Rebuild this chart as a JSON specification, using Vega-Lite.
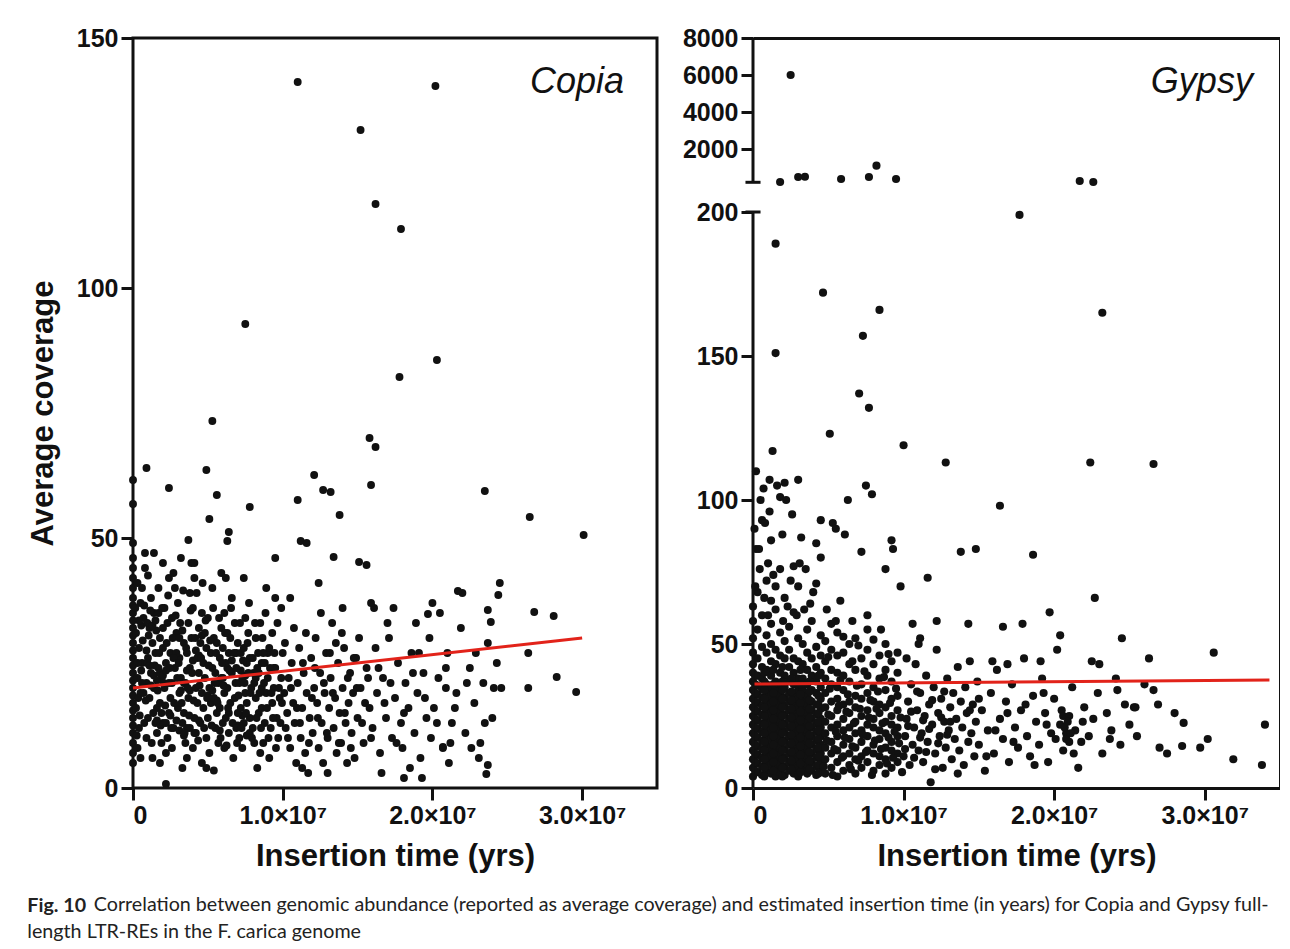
{
  "$schema": "https://vega.github.io/schema/vega-lite/v6.json",
  "background": "white",
  "padding": {"left": 25, "top": 24, "right": 0, "bottom": 0},
  "spacing": 23,
  "title": {
    "text": "Correlation between genomic abundance (reported as average coverage) and estimated insertion time (in years) for Copia and Gypsy full-",
    "orient": "bottom",
    "anchor": "start",
    "font": "Lato",
    "fontSize": 19.7,
    "fontWeight": "normal",
    "color": "#222",
    "baseline": "top",
    "dx": 68,
    "offset": -48
  },
  "datasets": {
    "copia": [
      {"t":0,"c":5},{"t":0,"c":7},{"t":0,"c":9},{"t":0,"c":11},{"t":0,"c":12.5},{"t":0,"c":14},{"t":0,"c":15.5},{"t":0,"c":17},{"t":0,"c":18.5},{"t":0,"c":20},{"t":0,"c":21.5},{"t":0,"c":23},{"t":0,"c":24.5},{"t":0,"c":26},{"t":0,"c":27.5},{"t":0,"c":29},{"t":0,"c":30.5},{"t":0,"c":32},{"t":0,"c":33.5},{"t":0,"c":35},{"t":0,"c":36.5},{"t":0,"c":38},{"t":0,"c":40},{"t":0,"c":42},{"t":0,"c":44},{"t":0,"c":46},{"t":0,"c":49},{"t":0,"c":56.8},{"t":0,"c":61.6},
      {"t":0.3,"c":8},{"t":0.4,"c":12},{"t":0.2,"c":16},{"t":0.5,"c":19},{"t":0.3,"c":22},{"t":0.6,"c":25},{"t":0.4,"c":28},{"t":0.2,"c":31},{"t":0.7,"c":34},{"t":0.5,"c":37},{"t":0.3,"c":41},{"t":0.8,"c":44},{"t":0.9,"c":10},{"t":1.0,"c":14},{"t":1.1,"c":18},{"t":0.9,"c":21},{"t":1.2,"c":23},{"t":1.0,"c":26},{"t":1.3,"c":29},{"t":1.1,"c":32},{"t":1.4,"c":35},{"t":1.2,"c":38},{"t":1.5,"c":13},{"t":1.6,"c":16},{"t":1.4,"c":20},{"t":1.7,"c":24},{"t":1.5,"c":27},{"t":1.8,"c":30},{"t":1.6,"c":11},{"t":1.9,"c":9},{"t":2.0,"c":13},{"t":1.8,"c":17},{"t":2.1,"c":20},{"t":1.9,"c":22},{"t":2.2,"c":25},{"t":2.0,"c":28},{"t":2.3,"c":33},{"t":2.1,"c":36},{"t":1.7,"c":40},{"t":2.4,"c":42},{"t":2.2,"c":7},{"t":1.3,"c":6},{"t":0.8,"c":47},{"t":2.5,"c":18},{"t":2.6,"c":21},{"t":2.4,"c":15},{"t":2.7,"c":12},{"t":2.3,"c":10},{"t":2.8,"c":24},{"t":2.5,"c":27},{"t":2.9,"c":31},{"t":2.6,"c":34},{"t":3.0,"c":37},{"t":2.8,"c":40},{"t":3.1,"c":19},{"t":3.2,"c":22},{"t":3.0,"c":16},{"t":3.3,"c":13},{"t":3.1,"c":26},{"t":3.4,"c":29},
      {"t":0.25,"c":10.5},{"t":0.45,"c":14.5},{"t":0.35,"c":18},{"t":0.55,"c":23.5},{"t":0.65,"c":29.5},{"t":0.75,"c":13},{"t":0.85,"c":17.5},{"t":0.95,"c":25},{"t":1.05,"c":30.5},{"t":1.15,"c":35.5},{"t":1.25,"c":9},{"t":1.35,"c":15},{"t":1.45,"c":24.5},{"t":1.55,"c":31.5},{"t":1.65,"c":19.5},{"t":1.75,"c":27},{"t":1.85,"c":12.5},{"t":1.95,"c":36},{"t":2.05,"c":21},{"t":2.15,"c":16.5},{"t":2.25,"c":29},{"t":2.35,"c":38.5},{"t":2.45,"c":24},{"t":2.55,"c":12},{"t":2.65,"c":30},{"t":2.75,"c":17},{"t":2.85,"c":34.5},{"t":2.95,"c":22},{"t":0.6,"c":40},{"t":1.0,"c":42.5},{"t":2.0,"c":45},{"t":2.7,"c":43},{"t":0.15,"c":36},{"t":0.5,"c":6},{"t":1.8,"c":5},{"t":2.6,"c":8},
      {"t":1.2,"c":20.5},{"t":1.4,"c":22.5},{"t":1.6,"c":21.5},{"t":1.8,"c":23},{"t":2.0,"c":22.5},{"t":2.2,"c":23.5},{"t":2.4,"c":21},{"t":0.7,"c":19},{"t":0.9,"c":27.5},{"t":1.1,"c":24.5},{"t":3.2,"c":19.5},{"t":3.4,"c":21},{"t":3.6,"c":23.5},{"t":3.8,"c":19.5},{"t":4.0,"c":25.5},{"t":4.2,"c":27.5},{"t":4.4,"c":26.5},{"t":4.6,"c":30.5},{"t":2.9,"c":27},{"t":3.1,"c":30},{"t":3.3,"c":31.5},{"t":2.7,"c":26},{"t":1.6,"c":13.5},{"t":1.9,"c":15},{"t":2.2,"c":13},{"t":2.5,"c":14.5},{"t":2.9,"c":13.5},{"t":3.1,"c":11.5},{"t":3.4,"c":10.5},{"t":3.8,"c":12},{"t":4.1,"c":11},{"t":4.4,"c":13.5},{"t":5.0,"c":18.5},{"t":5.3,"c":19.5},{"t":5.6,"c":17.5},{"t":6.0,"c":22},{"t":6.3,"c":24},{"t":6.6,"c":25.5},{"t":6.9,"c":27},{"t":7.2,"c":23.5},{"t":7.5,"c":22.5},{"t":7.8,"c":26},{"t":0.55,"c":32.5},{"t":0.75,"c":36.5},{"t":0.95,"c":33},{"t":1.3,"c":32.5},{"t":1.5,"c":33.5},{"t":1.7,"c":35},{"t":2.0,"c":32},{"t":0.3,"c":25},{"t":0.6,"c":21},{"t":0.4,"c":33.5},{"t":5.8,"c":11.5},{"t":6.1,"c":8},{"t":6.4,"c":15},{"t":7.0,"c":12.5},{"t":7.3,"c":14.5},{"t":7.6,"c":10.5},{"t":8.2,"c":22},{"t":8.6,"c":25},{"t":9.0,"c":27},{"t":9.4,"c":24},
      {"t":3.5,"c":9},{"t":3.6,"c":12},{"t":3.4,"c":15},{"t":3.7,"c":18},{"t":3.5,"c":21},{"t":3.8,"c":24},{"t":3.6,"c":27},{"t":3.9,"c":30},{"t":3.7,"c":33},{"t":4.0,"c":36},{"t":3.8,"c":39},{"t":4.1,"c":42},{"t":4.0,"c":8},{"t":4.2,"c":11},{"t":4.1,"c":14},{"t":4.3,"c":17},{"t":4.2,"c":20},{"t":4.4,"c":23},{"t":4.3,"c":26},{"t":4.5,"c":29},{"t":4.4,"c":32},{"t":4.6,"c":35},{"t":4.5,"c":13},{"t":4.7,"c":16},{"t":4.6,"c":19},{"t":4.8,"c":22},{"t":4.7,"c":25},{"t":4.9,"c":28},{"t":4.8,"c":31},{"t":5.0,"c":34},{"t":4.9,"c":10},{"t":5.1,"c":7},{"t":5.0,"c":14},{"t":5.2,"c":17},{"t":5.1,"c":20},{"t":5.3,"c":24},{"t":5.2,"c":27},{"t":5.4,"c":30},{"t":5.3,"c":40},{"t":5.5,"c":12},{"t":5.6,"c":15},{"t":5.4,"c":18},{"t":5.7,"c":21},{"t":5.5,"c":23},{"t":5.8,"c":26},{"t":5.6,"c":29},{"t":5.9,"c":32},{"t":5.7,"c":9},{"t":6.0,"c":13},{"t":5.8,"c":16},{"t":6.1,"c":19},{"t":5.9,"c":22},{"t":6.2,"c":25},{"t":6.0,"c":28},{"t":6.3,"c":31},{"t":6.1,"c":35},{"t":6.4,"c":11},{"t":6.2,"c":14},{"t":6.5,"c":17},{"t":6.3,"c":20},{"t":6.6,"c":23},{"t":6.4,"c":27},{"t":6.7,"c":6},{"t":6.5,"c":30},{"t":6.8,"c":33},{"t":6.6,"c":38},{"t":3.3,"c":4},{"t":4.6,"c":5},{"t":5.4,"c":3.5},{"t":3.9,"c":45},
      {"t":3.05,"c":25},{"t":3.15,"c":33},{"t":3.25,"c":17},{"t":3.35,"c":39.5},{"t":3.45,"c":11},{"t":3.55,"c":28},{"t":3.65,"c":20},{"t":3.75,"c":14.5},{"t":3.85,"c":35.5},{"t":3.95,"c":23},{"t":4.05,"c":17.5},{"t":4.15,"c":30},{"t":4.25,"c":39},{"t":4.35,"c":9.5},{"t":4.45,"c":20.5},{"t":4.55,"c":26},{"t":4.65,"c":41},{"t":4.75,"c":12},{"t":4.85,"c":33.5},{"t":4.95,"c":18},{"t":5.05,"c":24.5},{"t":5.15,"c":29.5},{"t":5.25,"c":12.5},{"t":5.35,"c":36},{"t":5.45,"c":21},{"t":5.55,"c":27},{"t":5.65,"c":17},{"t":5.75,"c":34},{"t":5.85,"c":10},{"t":5.95,"c":25},{"t":6.05,"c":20.5},{"t":6.15,"c":31},{"t":6.25,"c":8.5},{"t":6.35,"c":16},{"t":6.45,"c":23.5},{"t":6.55,"c":36},{"t":6.65,"c":13},{"t":6.75,"c":27},{"t":6.85,"c":21},{"t":6.95,"c":9},{"t":4.1,"c":45},{"t":5.9,"c":43},{"t":3.2,"c":46},{"t":6.2,"c":42},{"t":4.9,"c":4},{"t":3.6,"c":6},
      {"t":6.9,"c":12},{"t":7.0,"c":15},{"t":6.8,"c":18},{"t":7.1,"c":21},{"t":6.9,"c":24},{"t":7.2,"c":27},{"t":7.0,"c":29},{"t":7.3,"c":8},{"t":7.1,"c":10},{"t":7.4,"c":13},{"t":7.2,"c":16},{"t":7.5,"c":19},{"t":7.3,"c":22},{"t":7.6,"c":25},{"t":7.4,"c":28},{"t":7.7,"c":31},{"t":7.5,"c":34},{"t":7.8,"c":14},{"t":7.6,"c":17},{"t":7.9,"c":20},{"t":7.7,"c":23},{"t":8.0,"c":26},{"t":7.8,"c":11},{"t":8.1,"c":9},{"t":8.0,"c":12},{"t":8.2,"c":18},{"t":8.1,"c":21},{"t":8.3,"c":24},{"t":8.2,"c":30},{"t":8.4,"c":15},{"t":8.5,"c":7},{"t":8.3,"c":4},{"t":8.6,"c":20},{"t":8.4,"c":23},{"t":8.7,"c":27},{"t":8.5,"c":33},{"t":8.8,"c":13},{"t":8.6,"c":16},{"t":8.9,"c":19},{"t":8.7,"c":9},{"t":9.0,"c":22},{"t":8.8,"c":25},{"t":9.1,"c":28},{"t":9.2,"c":12},{"t":9.3,"c":17},{"t":9.1,"c":6},{"t":9.4,"c":20},{"t":9.5,"c":24},{"t":9.3,"c":31},{"t":9.6,"c":14},{"t":9.7,"c":10},{"t":9.5,"c":38},{"t":9.8,"c":18},{"t":9.9,"c":22},{"t":10.0,"c":27},
      {"t":7.05,"c":18.5},{"t":7.15,"c":33},{"t":7.25,"c":12},{"t":7.35,"c":25.5},{"t":7.45,"c":21},{"t":7.55,"c":15},{"t":7.65,"c":29},{"t":7.75,"c":37},{"t":7.85,"c":19},{"t":7.95,"c":10},{"t":8.05,"c":23},{"t":8.15,"c":33},{"t":8.25,"c":14},{"t":8.35,"c":27},{"t":8.45,"c":19},{"t":8.55,"c":12},{"t":8.65,"c":30},{"t":8.75,"c":21},{"t":8.85,"c":35},{"t":8.95,"c":16},{"t":9.05,"c":10},{"t":9.15,"c":24},{"t":9.25,"c":19},{"t":9.35,"c":14},{"t":9.45,"c":27},{"t":9.55,"c":8},{"t":9.65,"c":33},{"t":9.75,"c":20},{"t":9.85,"c":13},{"t":9.95,"c":17},{"t":7.4,"c":42},{"t":8.9,"c":40},{"t":9.9,"c":36},
      {"t":10.2,"c":12},{"t":10.3,"c":15},{"t":10.1,"c":19},{"t":10.4,"c":22},{"t":10.5,"c":8},{"t":10.6,"c":25},{"t":10.7,"c":17},{"t":10.8,"c":13},{"t":10.9,"c":5},{"t":11.0,"c":21},{"t":11.1,"c":28},{"t":11.2,"c":10},{"t":11.3,"c":16},{"t":11.4,"c":23},{"t":11.5,"c":7},{"t":11.6,"c":19},{"t":11.7,"c":3},{"t":11.8,"c":14},{"t":11.9,"c":26},{"t":12.0,"c":11},{"t":12.1,"c":20},{"t":12.2,"c":30},{"t":12.3,"c":17},{"t":12.4,"c":8},{"t":12.5,"c":23},{"t":12.6,"c":13},{"t":12.7,"c":5},{"t":12.8,"c":19},{"t":12.9,"c":27},{"t":13.0,"c":10},{"t":13.1,"c":16},{"t":13.2,"c":22},{"t":13.3,"c":33},{"t":13.4,"c":12},{"t":13.5,"c":18},{"t":13.6,"c":7},{"t":13.7,"c":25},{"t":13.8,"c":15},{"t":13.9,"c":9},{"t":14.0,"c":20},{"t":14.1,"c":28},{"t":14.2,"c":13},{"t":14.3,"c":5},{"t":14.4,"c":17},{"t":14.5,"c":23},{"t":14.6,"c":11},{"t":14.7,"c":19},{"t":14.8,"c":6},{"t":14.9,"c":26},{"t":15.0,"c":14},
      {"t":10.15,"c":29},{"t":10.35,"c":10},{"t":10.55,"c":20},{"t":10.75,"c":32},{"t":10.95,"c":16},{"t":11.15,"c":13},{"t":11.35,"c":25},{"t":11.55,"c":31},{"t":11.75,"c":9},{"t":11.95,"c":18},{"t":12.15,"c":24},{"t":12.35,"c":14},{"t":12.55,"c":35},{"t":12.75,"c":21},{"t":12.95,"c":11},{"t":13.15,"c":27},{"t":13.35,"c":19},{"t":13.55,"c":29},{"t":13.75,"c":9},{"t":13.95,"c":31},{"t":14.15,"c":15},{"t":14.35,"c":22},{"t":14.55,"c":8},{"t":14.75,"c":26},{"t":14.95,"c":20},{"t":15.1,"c":30},{"t":15.3,"c":13},{"t":15.5,"c":17},{"t":15.7,"c":22},{"t":15.9,"c":10},{"t":10.5,"c":38},{"t":12.4,"c":41},{"t":14.0,"c":36},{"t":11.3,"c":4},{"t":13.0,"c":3},
      {"t":15.2,"c":20},{"t":15.4,"c":9},{"t":15.6,"c":24},{"t":15.8,"c":16},{"t":16.0,"c":12},{"t":16.2,"c":28},{"t":16.3,"c":19},{"t":16.5,"c":7},{"t":16.7,"c":22},{"t":16.9,"c":14},{"t":17.1,"c":30},{"t":17.3,"c":10},{"t":17.5,"c":18},{"t":17.7,"c":25},{"t":17.9,"c":13},{"t":18.0,"c":8},{"t":18.2,"c":21},{"t":18.4,"c":16},{"t":18.6,"c":27},{"t":18.8,"c":11},{"t":19.0,"c":19},{"t":19.2,"c":6},{"t":19.4,"c":23},{"t":19.6,"c":14},{"t":19.8,"c":30},{"t":16.1,"c":36},{"t":17.0,"c":33},{"t":18.5,"c":4},{"t":19.9,"c":10},{"t":15.9,"c":37},
      {"t":16.4,"c":24},{"t":16.8,"c":17},{"t":17.2,"c":21},{"t":17.6,"c":9},{"t":18.1,"c":15},{"t":18.7,"c":23},{"t":19.1,"c":27},{"t":19.5,"c":18},{"t":20.3,"c":13},{"t":20.9,"c":24},{"t":21.5,"c":16},{"t":22.3,"c":21},{"t":22.9,"c":27},{"t":23.5,"c":13},{"t":24.1,"c":20},{"t":17.4,"c":36},{"t":18.9,"c":33},{"t":21.1,"c":5},{"t":22.6,"c":8},{"t":16.6,"c":3},
      {"t":20.1,"c":16},{"t":20.4,"c":22},{"t":20.7,"c":8},{"t":21.0,"c":27},{"t":21.3,"c":13},{"t":21.6,"c":19},{"t":21.9,"c":32},{"t":22.2,"c":11},{"t":22.5,"c":24},{"t":22.8,"c":17},{"t":23.1,"c":6},{"t":23.4,"c":21},{"t":23.7,"c":29},{"t":24.0,"c":14},{"t":24.3,"c":25},{"t":23.2,"c":9},{"t":24.6,"c":20},{"t":21.2,"c":9},{"t":22.0,"c":39},{"t":20.5,"c":35},
      {"t":11.0,"c":141.2},{"t":20.2,"c":140.4},{"t":15.2,"c":131.6},{"t":16.2,"c":116.8},{"t":17.9,"c":111.8},{"t":7.5,"c":92.8},{"t":20.3,"c":85.6},{"t":17.8,"c":82.2},{"t":5.3,"c":73.4},{"t":15.8,"c":70},{"t":16.2,"c":68.2},{"t":0.9,"c":64},{"t":4.9,"c":63.6},{"t":12.1,"c":62.6},{"t":2.4,"c":60},{"t":12.7,"c":59.6},{"t":13.2,"c":59.2},{"t":23.5,"c":59.4},{"t":5.6,"c":58.6},{"t":7.8,"c":56.2},{"t":11.0,"c":57.6},{"t":15.9,"c":60.6},{"t":13.8,"c":54.6},{"t":26.5,"c":54.2},{"t":5.1,"c":53.8},{"t":6.4,"c":51.2},{"t":6.3,"c":49.4},{"t":30.1,"c":50.6},{"t":11.2,"c":49.4},{"t":11.6,"c":49},{"t":13.4,"c":46.2},{"t":15.1,"c":45.2},{"t":15.6,"c":44.6},{"t":3.7,"c":49.6},{"t":1.4,"c":47},{"t":9.5,"c":46},{"t":24.5,"c":41},{"t":24.4,"c":38.6},{"t":21.7,"c":39.4},{"t":19.7,"c":34.8},{"t":20.0,"c":37},{"t":23.7,"c":35.6},{"t":26.8,"c":35.2},{"t":28.1,"c":34.4},{"t":23.9,"c":33.2},{"t":26.4,"c":27},{"t":28.3,"c":22.2},{"t":26.4,"c":20},{"t":29.6,"c":19.2},{"t":20.9,"c":20},{"t":23.7,"c":4.6},{"t":23.6,"c":2.8},{"t":18.1,"c":2},{"t":19.3,"c":2},{"t":2.2,"c":0.8},{"t":20.7,"c":8.2}
    ],
    "gypsy": [
      {"t":0,"c":4},{"t":0,"c":7},{"t":0,"c":10},{"t":0,"c":13},{"t":0,"c":16},{"t":0,"c":19},{"t":0,"c":22},{"t":0,"c":25},{"t":0,"c":28},{"t":0,"c":31},{"t":0,"c":34},{"t":0,"c":37},{"t":0,"c":40},{"t":0,"c":43},{"t":0,"c":47},{"t":0,"c":52},{"t":0,"c":58},{"t":0,"c":63},
      {"t":0.3,"c":5.5},{"t":0.3,"c":8.5},{"t":0.3,"c":11.5},{"t":0.3,"c":14.5},{"t":0.3,"c":17.5},{"t":0.3,"c":20.5},{"t":0.3,"c":23.5},{"t":0.3,"c":26.5},{"t":0.3,"c":29.5},{"t":0.3,"c":32.5},{"t":0.3,"c":35.5},{"t":0.3,"c":39},{"t":0.3,"c":45},{"t":0.3,"c":55},{"t":0.3,"c":68},
      {"t":0.6,"c":4.5},{"t":0.6,"c":7.5},{"t":0.6,"c":10.5},{"t":0.6,"c":13.5},{"t":0.6,"c":16.5},{"t":0.6,"c":19.5},{"t":0.6,"c":22.5},{"t":0.6,"c":25.5},{"t":0.6,"c":28.5},{"t":0.6,"c":31.5},{"t":0.6,"c":34.5},{"t":0.6,"c":38},{"t":0.6,"c":42},{"t":0.6,"c":49},{"t":0.6,"c":60},{"t":0.6,"c":93},
      {"t":0.9,"c":6},{"t":0.9,"c":9},{"t":0.9,"c":12},{"t":0.9,"c":15},{"t":0.9,"c":18},{"t":0.9,"c":21},{"t":0.9,"c":24},{"t":0.9,"c":27},{"t":0.9,"c":30},{"t":0.9,"c":33},{"t":0.9,"c":36},{"t":0.9,"c":41},{"t":0.9,"c":47},{"t":0.9,"c":53},{"t":0.9,"c":72},
      {"t":1.2,"c":5},{"t":1.2,"c":8},{"t":1.2,"c":11},{"t":1.2,"c":14},{"t":1.2,"c":17},{"t":1.2,"c":20},{"t":1.2,"c":23},{"t":1.2,"c":26},{"t":1.2,"c":29},{"t":1.2,"c":32},{"t":1.2,"c":35},{"t":1.2,"c":39},{"t":1.2,"c":44},{"t":1.2,"c":50},{"t":1.2,"c":57},{"t":1.2,"c":65},{"t":1.2,"c":86},
      {"t":1.5,"c":4},{"t":1.5,"c":7},{"t":1.5,"c":10},{"t":1.5,"c":13},{"t":1.5,"c":16},{"t":1.5,"c":19},{"t":1.5,"c":22},{"t":1.5,"c":25},{"t":1.5,"c":28},{"t":1.5,"c":31},{"t":1.5,"c":34},{"t":1.5,"c":37},{"t":1.5,"c":43},{"t":1.5,"c":48},{"t":1.5,"c":62},{"t":1.5,"c":70},
      {"t":1.8,"c":5.5},{"t":1.8,"c":8.5},{"t":1.8,"c":11.5},{"t":1.8,"c":14.5},{"t":1.8,"c":17.5},{"t":1.8,"c":20.5},{"t":1.8,"c":23.5},{"t":1.8,"c":26.5},{"t":1.8,"c":29.5},{"t":1.8,"c":32.5},{"t":1.8,"c":36},{"t":1.8,"c":40},{"t":1.8,"c":46},{"t":1.8,"c":54},{"t":1.8,"c":76},{"t":1.8,"c":101},
      {"t":2.1,"c":4.5},{"t":2.1,"c":7.5},{"t":2.1,"c":10.5},{"t":2.1,"c":13.5},{"t":2.1,"c":16.5},{"t":2.1,"c":19.5},{"t":2.1,"c":22.5},{"t":2.1,"c":25.5},{"t":2.1,"c":28.5},{"t":2.1,"c":31.5},{"t":2.1,"c":35},{"t":2.1,"c":39},{"t":2.1,"c":45},{"t":2.1,"c":51},{"t":2.1,"c":66},{"t":2.1,"c":106},
      {"t":2.4,"c":6},{"t":2.4,"c":9},{"t":2.4,"c":12},{"t":2.4,"c":15},{"t":2.4,"c":18},{"t":2.4,"c":21},{"t":2.4,"c":24},{"t":2.4,"c":27},{"t":2.4,"c":30},{"t":2.4,"c":33},{"t":2.4,"c":37},{"t":2.4,"c":42},{"t":2.4,"c":48},{"t":2.4,"c":56},
      {"t":2.7,"c":5},{"t":2.7,"c":8},{"t":2.7,"c":11},{"t":2.7,"c":14},{"t":2.7,"c":17},{"t":2.7,"c":20},{"t":2.7,"c":23},{"t":2.7,"c":26},{"t":2.7,"c":29},{"t":2.7,"c":32},{"t":2.7,"c":36},{"t":2.7,"c":40},{"t":2.7,"c":45},{"t":2.7,"c":61},{"t":2.7,"c":77},
      {"t":3.0,"c":4},{"t":3.0,"c":7},{"t":3.0,"c":10},{"t":3.0,"c":13},{"t":3.0,"c":16},{"t":3.0,"c":19},{"t":3.0,"c":22},{"t":3.0,"c":25},{"t":3.0,"c":28},{"t":3.0,"c":31},{"t":3.0,"c":34},{"t":3.0,"c":38},{"t":3.0,"c":44},{"t":3.0,"c":52},{"t":3.0,"c":70},{"t":3.0,"c":107},
      {"t":3.3,"c":6.5},{"t":3.3,"c":9.5},{"t":3.3,"c":12.5},{"t":3.3,"c":15.5},{"t":3.3,"c":18.5},{"t":3.3,"c":21.5},{"t":3.3,"c":24.5},{"t":3.3,"c":27.5},{"t":3.3,"c":30.5},{"t":3.3,"c":34},{"t":3.3,"c":38},{"t":3.3,"c":43},{"t":3.3,"c":50},
      {"t":3.6,"c":5},{"t":3.6,"c":8},{"t":3.6,"c":11},{"t":3.6,"c":14},{"t":3.6,"c":17},{"t":3.6,"c":20},{"t":3.6,"c":23},{"t":3.6,"c":26},{"t":3.6,"c":29},{"t":3.6,"c":32},{"t":3.6,"c":36},{"t":3.6,"c":41},{"t":3.6,"c":47},{"t":3.6,"c":55},
      {"t":3.9,"c":6},{"t":3.9,"c":9},{"t":3.9,"c":12},{"t":3.9,"c":15},{"t":3.9,"c":18},{"t":3.9,"c":21},{"t":3.9,"c":24},{"t":3.9,"c":27},{"t":3.9,"c":30},{"t":3.9,"c":34},{"t":3.9,"c":39},{"t":3.9,"c":45},{"t":3.9,"c":58},
      {"t":4.2,"c":4.5},{"t":4.2,"c":7.5},{"t":4.2,"c":10.5},{"t":4.2,"c":13.5},{"t":4.2,"c":16.5},{"t":4.2,"c":19.5},{"t":4.2,"c":22.5},{"t":4.2,"c":25.5},{"t":4.2,"c":29},{"t":4.2,"c":33},{"t":4.2,"c":37},{"t":4.2,"c":42},{"t":4.2,"c":49},{"t":4.2,"c":85},
      {"t":4.5,"c":6},{"t":4.5,"c":9},{"t":4.5,"c":12},{"t":4.5,"c":15},{"t":4.5,"c":18},{"t":4.5,"c":21},{"t":4.5,"c":24},{"t":4.5,"c":27.5},{"t":4.5,"c":31},{"t":4.5,"c":35},{"t":4.5,"c":40},{"t":4.5,"c":46},{"t":4.5,"c":53},{"t":4.5,"c":80},{"t":4.5,"c":93},
      {"t":0.15,"c":6},{"t":0.15,"c":9},{"t":0.15,"c":12},{"t":0.15,"c":15},{"t":0.15,"c":18},{"t":0.15,"c":21},{"t":0.15,"c":24},{"t":0.15,"c":27},{"t":0.15,"c":30},{"t":0.15,"c":33},{"t":0.15,"c":36},{"t":0.15,"c":39},
      {"t":0.75,"c":4},{"t":0.75,"c":7},{"t":0.75,"c":10},{"t":0.75,"c":13},{"t":0.75,"c":16},{"t":0.75,"c":19},{"t":0.75,"c":22},{"t":0.75,"c":25},{"t":0.75,"c":28},{"t":0.75,"c":31},{"t":0.75,"c":34},{"t":0.75,"c":37},{"t":0.75,"c":40},
      {"t":1.35,"c":6},{"t":1.35,"c":9},{"t":1.35,"c":12},{"t":1.35,"c":15},{"t":1.35,"c":18},{"t":1.35,"c":21},{"t":1.35,"c":24},{"t":1.35,"c":27},{"t":1.35,"c":30},{"t":1.35,"c":33},{"t":1.35,"c":36},{"t":1.35,"c":41},
      {"t":1.95,"c":4},{"t":1.95,"c":7},{"t":1.95,"c":10},{"t":1.95,"c":13},{"t":1.95,"c":16},{"t":1.95,"c":19},{"t":1.95,"c":22},{"t":1.95,"c":25},{"t":1.95,"c":28},{"t":1.95,"c":31},{"t":1.95,"c":34},{"t":1.95,"c":37},{"t":1.95,"c":42},
      {"t":2.55,"c":6.5},{"t":2.55,"c":9.5},{"t":2.55,"c":12.5},{"t":2.55,"c":15.5},{"t":2.55,"c":18.5},{"t":2.55,"c":21.5},{"t":2.55,"c":24.5},{"t":2.55,"c":27.5},{"t":2.55,"c":30.5},{"t":2.55,"c":33.5},{"t":2.55,"c":38},
      {"t":3.15,"c":5.5},{"t":3.15,"c":8.5},{"t":3.15,"c":11.5},{"t":3.15,"c":14.5},{"t":3.15,"c":17.5},{"t":3.15,"c":20.5},{"t":3.15,"c":23.5},{"t":3.15,"c":26.5},{"t":3.15,"c":29.5},{"t":3.15,"c":32.5},{"t":3.15,"c":36},{"t":3.15,"c":41},
      {"t":3.75,"c":6.5},{"t":3.75,"c":9.5},{"t":3.75,"c":12.5},{"t":3.75,"c":15.5},{"t":3.75,"c":18.5},{"t":3.75,"c":21.5},{"t":3.75,"c":24.5},{"t":3.75,"c":27.5},{"t":3.75,"c":30.5},{"t":3.75,"c":33.5},{"t":3.75,"c":37},
      {"t":4.35,"c":5},{"t":4.35,"c":8},{"t":4.35,"c":11},{"t":4.35,"c":14},{"t":4.35,"c":17},{"t":4.35,"c":20},{"t":4.35,"c":23},{"t":4.35,"c":26},{"t":4.35,"c":29},{"t":4.35,"c":32},{"t":4.35,"c":39},
      {"t":4.8,"c":5},{"t":4.8,"c":10},{"t":4.8,"c":14},{"t":4.8,"c":19},{"t":4.8,"c":23},{"t":4.8,"c":28},{"t":4.8,"c":33},{"t":4.8,"c":38},{"t":4.8,"c":44},{"t":4.8,"c":51},
      {"t":5.2,"c":7},{"t":5.2,"c":12},{"t":5.2,"c":16},{"t":5.2,"c":21},{"t":5.2,"c":25},{"t":5.2,"c":30},{"t":5.2,"c":36},{"t":5.2,"c":41},{"t":5.2,"c":48},{"t":5.2,"c":57},
      {"t":5.6,"c":4},{"t":5.6,"c":9},{"t":5.6,"c":13},{"t":5.6,"c":18},{"t":5.6,"c":22},{"t":5.6,"c":27},{"t":5.6,"c":31},{"t":5.6,"c":35},{"t":5.6,"c":40},{"t":5.6,"c":46},{"t":5.6,"c":54},
      {"t":6.0,"c":6},{"t":6.0,"c":11},{"t":6.0,"c":15},{"t":6.0,"c":20},{"t":6.0,"c":24},{"t":6.0,"c":29},{"t":6.0,"c":34},{"t":6.0,"c":39},{"t":6.0,"c":47},
      {"t":6.4,"c":8},{"t":6.4,"c":12},{"t":6.4,"c":17},{"t":6.4,"c":21},{"t":6.4,"c":26},{"t":6.4,"c":30},{"t":6.4,"c":37},{"t":6.4,"c":43},{"t":6.4,"c":50},
      {"t":6.8,"c":5},{"t":6.8,"c":10},{"t":6.8,"c":14},{"t":6.8,"c":19},{"t":6.8,"c":23},{"t":6.8,"c":28},{"t":6.8,"c":32},{"t":6.8,"c":41},{"t":6.8,"c":52},
      {"t":7.2,"c":7},{"t":7.2,"c":11},{"t":7.2,"c":16},{"t":7.2,"c":20},{"t":7.2,"c":25},{"t":7.2,"c":31},{"t":7.2,"c":36},{"t":7.2,"c":45},
      {"t":7.6,"c":9},{"t":7.6,"c":13},{"t":7.6,"c":18},{"t":7.6,"c":22},{"t":7.6,"c":27},{"t":7.6,"c":33},{"t":7.6,"c":39},{"t":7.6,"c":48},{"t":7.6,"c":55},
      {"t":8.0,"c":6},{"t":8.0,"c":12},{"t":8.0,"c":15},{"t":8.0,"c":21},{"t":8.0,"c":24},{"t":8.0,"c":30},{"t":8.0,"c":35},{"t":8.0,"c":43},
      {"t":8.4,"c":8},{"t":8.4,"c":11},{"t":8.4,"c":17},{"t":8.4,"c":20},{"t":8.4,"c":26},{"t":8.4,"c":29},{"t":8.4,"c":38},{"t":8.4,"c":46},
      {"t":8.8,"c":5},{"t":8.8,"c":10},{"t":8.8,"c":14},{"t":8.8,"c":19},{"t":8.8,"c":23},{"t":8.8,"c":28},{"t":8.8,"c":34},{"t":8.8,"c":41},{"t":8.8,"c":50},
      {"t":9.2,"c":7},{"t":9.2,"c":13},{"t":9.2,"c":16},{"t":9.2,"c":22},{"t":9.2,"c":25},{"t":9.2,"c":31},{"t":9.2,"c":37},{"t":9.2,"c":44},
      {"t":9.6,"c":9},{"t":9.6,"c":12},{"t":9.6,"c":18},{"t":9.6,"c":21},{"t":9.6,"c":27},{"t":9.6,"c":32},{"t":9.6,"c":40},{"t":9.6,"c":47},
      {"t":4.7,"c":7.5},{"t":4.9,"c":16.5},{"t":5.0,"c":25.5},{"t":5.1,"c":34.5},{"t":5.3,"c":4.5},{"t":5.4,"c":13.5},{"t":5.5,"c":19.5},{"t":5.7,"c":28.5},{"t":5.8,"c":37.5},{"t":5.9,"c":10.5},{"t":6.1,"c":17.5},{"t":6.2,"c":26.5},{"t":6.3,"c":32.5},{"t":6.5,"c":6.5},{"t":6.6,"c":14.5},{"t":6.7,"c":22.5},{"t":6.9,"c":35.5},{"t":7.0,"c":9.5},{"t":7.1,"c":27.5},{"t":7.3,"c":18.5},{"t":7.4,"c":40.5},{"t":7.5,"c":12.5},{"t":7.7,"c":24.5},{"t":7.8,"c":30.5},{"t":7.9,"c":4.5},{"t":8.1,"c":16.5},{"t":8.2,"c":27.5},{"t":8.3,"c":33.5},{"t":8.5,"c":13.5},{"t":8.6,"c":22.5},{"t":8.7,"c":38.5},{"t":8.9,"c":8.5},{"t":9.0,"c":17.5},{"t":9.1,"c":29.5},{"t":9.3,"c":10.5},{"t":9.4,"c":19.5},{"t":9.5,"c":34.5},{"t":9.7,"c":15.5},{"t":9.8,"c":24.5},{"t":9.9,"c":5.5},{"t":10.1,"c":13.5},{"t":10.3,"c":21.5},{"t":10.5,"c":26.5},{"t":10.7,"c":10.5},{"t":10.9,"c":33.5},{"t":11.1,"c":17.5},{"t":11.3,"c":23.5},{"t":11.5,"c":12.5},{"t":11.7,"c":20.5},{"t":11.9,"c":30.5},{"t":12.1,"c":6.5},{"t":12.3,"c":15.5},{"t":12.5,"c":24.5},{"t":12.7,"c":33.5},{"t":12.9,"c":18.5},
      {"t":5.0,"c":45.5},{"t":6.0,"c":52.5},{"t":7.0,"c":49.5},{"t":8.0,"c":51.5},{"t":9.0,"c":46.5},{"t":10.2,"c":45},{"t":11.0,"c":50},{"t":5.5,"c":58},{"t":6.6,"c":44},{"t":8.5,"c":55},{"t":4.9,"c":62},{"t":7.6,"c":60},{"t":3.4,"c":62},{"t":2.0,"c":58},{"t":1.0,"c":60},{"t":0.15,"c":70},{"t":0.45,"c":76},{"t":0.75,"c":66},{"t":1.35,"c":74},{"t":1.95,"c":88},{"t":2.5,"c":72},{"t":3.1,"c":78},{"t":4.0,"c":68},{"t":0.1,"c":90},{"t":0.7,"c":104},{"t":1.1,"c":107},{"t":2.3,"c":63},{"t":0.2,"c":83},
      {"t":10.0,"c":11},{"t":10.1,"c":18},{"t":10.2,"c":24},{"t":10.3,"c":30},{"t":10.4,"c":8},{"t":10.5,"c":36},{"t":10.6,"c":15},{"t":10.7,"c":21},{"t":10.8,"c":43},{"t":10.9,"c":27},{"t":11.0,"c":13},{"t":11.1,"c":33},{"t":11.2,"c":19},{"t":11.3,"c":9},{"t":11.4,"c":25},{"t":11.5,"c":39},{"t":11.6,"c":16},{"t":11.7,"c":29},{"t":11.8,"c":2},{"t":11.9,"c":22},{"t":12.0,"c":35},{"t":12.1,"c":12},{"t":12.2,"c":48},{"t":12.3,"c":26},{"t":12.4,"c":18},{"t":12.5,"c":31},{"t":12.6,"c":7},{"t":12.7,"c":23},{"t":12.8,"c":14},{"t":12.9,"c":38},{"t":13.0,"c":20},{"t":13.1,"c":28},{"t":13.2,"c":10},{"t":13.3,"c":33},{"t":13.4,"c":17},{"t":13.5,"c":24},{"t":13.6,"c":42},{"t":13.7,"c":13},{"t":13.8,"c":30},{"t":13.9,"c":21},{"t":14.0,"c":8},{"t":14.1,"c":35},{"t":14.2,"c":26},{"t":14.3,"c":16},{"t":14.4,"c":44},{"t":14.5,"c":19},{"t":14.6,"c":29},{"t":14.7,"c":11},{"t":14.8,"c":23},{"t":14.9,"c":37},{"t":15.0,"c":15},
      {"t":13.1,"c":23},{"t":13.6,"c":5},{"t":14.4,"c":27},{"t":15.0,"c":31},{"t":15.5,"c":11},{"t":16.1,"c":20},{"t":16.9,"c":26},{"t":17.3,"c":16},{"t":18.1,"c":29},{"t":18.7,"c":8},{"t":19.5,"c":22},{"t":20.5,"c":27},{"t":20.1,"c":17},{"t":21.3,"c":12},{"t":21.9,"c":23},{"t":20.6,"c":25},{"t":20.8,"c":19},{"t":21.0,"c":16},
      {"t":15.2,"c":27},{"t":15.4,"c":6},{"t":15.6,"c":20},{"t":15.8,"c":33},{"t":16.0,"c":12},{"t":16.2,"c":41},{"t":16.4,"c":24},{"t":16.6,"c":17},{"t":16.8,"c":30},{"t":17.0,"c":9},{"t":17.2,"c":36},{"t":17.4,"c":21},{"t":17.6,"c":14},{"t":17.8,"c":27},{"t":18.0,"c":45},{"t":18.2,"c":18},{"t":18.4,"c":11},{"t":18.6,"c":32},{"t":18.8,"c":23},{"t":19.0,"c":15},{"t":19.2,"c":38},{"t":19.4,"c":26},{"t":19.6,"c":9},{"t":19.8,"c":19},{"t":20.0,"c":31},{"t":20.2,"c":48},{"t":20.4,"c":22},{"t":20.6,"c":13},{"t":20.8,"c":17},{"t":21.0,"c":25},{"t":21.2,"c":35},{"t":21.4,"c":20},{"t":21.6,"c":7},{"t":21.8,"c":16},{"t":22.0,"c":28},{"t":20.9,"c":23},{"t":20.7,"c":21},{"t":21.1,"c":19},{"t":19.3,"c":33},{"t":17.9,"c":57},{"t":16.6,"c":56},{"t":19.1,"c":44},{"t":15.9,"c":44},{"t":16.9,"c":43},{"t":20.4,"c":53},
      {"t":22.3,"c":18},{"t":22.6,"c":24},{"t":22.9,"c":33},{"t":23.2,"c":12},{"t":23.5,"c":26},{"t":23.8,"c":20},{"t":24.1,"c":38},{"t":24.4,"c":15},{"t":24.7,"c":29},{"t":25.0,"c":22},{"t":23.0,"c":43},{"t":22.5,"c":44},{"t":24.2,"c":34},{"t":25.3,"c":28},{"t":26.0,"c":36},{"t":26.6,"c":34},{"t":26.9,"c":29},{"t":25.4,"c":28},{"t":27.0,"c":14},{"t":27.5,"c":12},{"t":28.5,"c":14.6},{"t":28.6,"c":22.6},{"t":29.7,"c":14},{"t":30.2,"c":17},{"t":30.6,"c":47},{"t":31.9,"c":10},{"t":33.8,"c":8},{"t":34.0,"c":22},{"t":26.3,"c":45},{"t":24.5,"c":52},{"t":25.5,"c":18},{"t":28.0,"c":26},{"t":23.7,"c":17},
      {"t":0.2,"c":110},{"t":0.5,"c":100},{"t":0.8,"c":92},{"t":1.0,"c":78},{"t":1.3,"c":117},{"t":1.5,"c":151},{"t":1.5,"c":189},{"t":1.6,"c":105},{"t":2.2,"c":100},{"t":2.6,"c":95},{"t":3.2,"c":87},{"t":3.5,"c":76},{"t":4.65,"c":172},{"t":5.1,"c":123},{"t":5.3,"c":92},{"t":5.8,"c":65},{"t":6.1,"c":88},{"t":6.6,"c":58},{"t":7.05,"c":137},{"t":7.3,"c":157},{"t":7.5,"c":105},{"t":7.7,"c":132},{"t":8.4,"c":166},{"t":7.9,"c":102},{"t":7.2,"c":82},{"t":9.2,"c":86},{"t":9.3,"c":83},{"t":8.8,"c":76},{"t":10.0,"c":119},{"t":11.6,"c":73},{"t":12.8,"c":113},{"t":12.2,"c":58},{"t":13.8,"c":82},{"t":14.8,"c":83},{"t":16.4,"c":98},{"t":17.7,"c":199},{"t":18.6,"c":81},{"t":19.7,"c":61},{"t":22.4,"c":113},{"t":22.7,"c":66},{"t":23.2,"c":165},{"t":26.6,"c":112.5},{"t":3.8,"c":64},{"t":4.2,"c":71},{"t":2.9,"c":60},{"t":0.4,"c":83},{"t":1.1,"c":96},{"t":6.3,"c":100},{"t":5.5,"c":90},{"t":9.8,"c":70},{"t":10.6,"c":57},{"t":14.3,"c":57},{"t":11.1,"c":52},
      {"t":2.5,"c":6000},{"t":1.8,"c":217},{"t":3.0,"c":490},{"t":3.45,"c":500},{"t":5.85,"c":380},{"t":7.7,"c":490},{"t":8.2,"c":1100},{"t":9.5,"c":380},{"t":21.7,"c":270},{"t":22.6,"c":220}
    ]
  },
  "hconcat": [
    {
      "width": 524,
      "height": 750,
      "view": {"stroke": "#111", "strokeWidth": 3},
      "title": {
        "text": "Fig. 10",
        "subtitle": "length LTR-REs in the F. carica genome",
        "orient": "bottom",
        "anchor": "start",
        "font": "Lato",
        "fontSize": 19.7,
        "fontWeight": "bold",
        "color": "#222",
        "subtitleFont": "Lato",
        "subtitleFontSize": 19.7,
        "subtitleFontWeight": "normal",
        "subtitleColor": "#222",
        "subtitlePadding": 6,
        "baseline": "top",
        "offset": 25
      },
      "layer": [
        {
          "data": {"name": "copia"},
          "mark": {"type": "circle", "size": 62, "opacity": 1, "color": "#111"},
          "encoding": {
            "x": {
              "field": "t", "type": "quantitative",
              "scale": {"domain": [0, 35], "nice": false, "zero": false},
              "axis": {
                "values": [0, 10, 20, 30],
                "labelExpr": "datum.value == 0 ? '0' : format(datum.value / 10, '.1f') + '×10⁷'",
                "title": "Insertion time (yrs)",
                "domain": false,
                "titlePadding": 13
              }
            },
            "y": {
              "field": "c", "type": "quantitative",
              "scale": {"domain": [0, 150], "nice": false},
              "axis": {
                "values": [0, 50, 100, 150],
                "format": "d",
                "title": "Average coverage",
                "domain": false,
                "titlePadding": 17
              }
            }
          }
        },
        {
          "data": {"values": [{"t": 0, "c": 20}, {"t": 30, "c": 30}]},
          "mark": {"type": "line", "color": "#e2231a", "strokeWidth": 3},
          "encoding": {
            "x": {"field": "t", "type": "quantitative"},
            "y": {"field": "c", "type": "quantitative"}
          }
        },
        {
          "data": {"values": [{"label": "Copia"}]},
          "mark": {"type": "text", "align": "right", "baseline": "alphabetic", "font": "Liberation Sans", "fontStyle": "italic", "fontSize": 36, "color": "#111"},
          "encoding": {
            "x": {"datum": 32.8, "type": "quantitative"},
            "y": {"datum": 139, "type": "quantitative"},
            "text": {"field": "label"}
          }
        }
      ]
    },
    {
      "width": 527,
      "height": 750,
      "view": {"stroke": null},
      "resolve": {"axis": {"x": "independent", "y": "independent"}},
      "layer": [
        {
          "data": {"name": "gypsy"},
          "mark": {"type": "circle", "size": 66, "opacity": 1, "color": "#111"},
          "encoding": {
            "x": {
              "field": "t", "type": "quantitative",
              "scale": {"domain": [0, 35], "nice": false, "zero": false},
              "axis": {
                "values": [0, 10, 20, 30],
                "labelExpr": "datum.value == 0 ? '0' : format(datum.value / 10, '.1f') + '×10⁷'",
                "title": "Insertion time (yrs)",
                "domain": true,
                "titlePadding": 13
              }
            },
            "y": {
              "field": "c", "type": "quantitative",
              "scale": {"domain": [0, 200, 201, 8000], "range": [750, 174, 144.3, 0], "nice": false, "zero": false},
              "axis": {
                "values": [0, 50, 100, 150, 200, 2000, 4000, 6000, 8000],
                "format": "d",
                "title": null,
                "domain": false
              }
            }
          }
        },
        {
          "data": {"values": [{"t": 0, "c": 36.1}, {"t": 34.3, "c": 37.5}]},
          "mark": {"type": "line", "color": "#e2231a", "strokeWidth": 3},
          "encoding": {
            "x": {
              "field": "t", "type": "quantitative",
              "scale": {"domain": [0, 35], "nice": false, "zero": false},
              "axis": {"orient": "top", "labels": false, "ticks": false, "title": null, "domain": true}
            },
            "y": {
              "field": "c", "type": "quantitative",
              "scale": {"domain": [0, 200, 201, 8000], "range": [750, 174, 144.3, 0], "nice": false, "zero": false},
              "axis": {"orient": "right", "labels": false, "ticks": false, "title": null, "domain": true}
            }
          }
        },
        {
          "data": {"values": [{}]},
          "mark": {"type": "rule", "color": "#111", "strokeWidth": 3},
          "encoding": {
            "x": {"datum": 0, "type": "quantitative", "axis": null},
            "y": {"datum": 0, "type": "quantitative", "axis": null},
            "y2": {"datum": 200}
          }
        },
        {
          "data": {"values": [{}]},
          "mark": {"type": "rule", "color": "#111", "strokeWidth": 3},
          "encoding": {
            "x": {"datum": 0, "type": "quantitative", "axis": null},
            "y": {"datum": 201, "type": "quantitative", "axis": null},
            "y2": {"datum": 8000}
          }
        },
        {
          "data": {"values": [{"edge": 200}, {"edge": 201}]},
          "mark": {"type": "rule", "color": "#111", "strokeWidth": 3},
          "encoding": {
            "x": {"datum": -0.5, "type": "quantitative", "axis": null},
            "x2": {"datum": 0.5},
            "y": {"field": "edge", "type": "quantitative", "axis": null}
          }
        },
        {
          "data": {"values": [{"label": "Gypsy"}]},
          "mark": {"type": "text", "align": "right", "baseline": "alphabetic", "font": "Liberation Sans", "fontStyle": "italic", "fontSize": 36, "color": "#111"},
          "encoding": {
            "x": {"datum": 33.2, "type": "quantitative", "axis": null},
            "y": {"datum": 5027, "type": "quantitative", "axis": null},
            "text": {"field": "label"}
          }
        }
      ]
    }
  ],
  "config": {
    "view": {"stroke": null},
    "axis": {
      "grid": false,
      "labelFont": "Liberation Sans",
      "labelFontWeight": "bold",
      "labelFontSize": 25,
      "labelColor": "#111",
      "labelPadding": 3,
      "labelOverlap": false,
      "titleFont": "Liberation Sans",
      "titleFontWeight": "bold",
      "titleFontSize": 31,
      "titleColor": "#111",
      "tickColor": "#111",
      "tickWidth": 3,
      "tickSize": 12,
      "domainColor": "#111",
      "domainWidth": 3
    }
  }
}
